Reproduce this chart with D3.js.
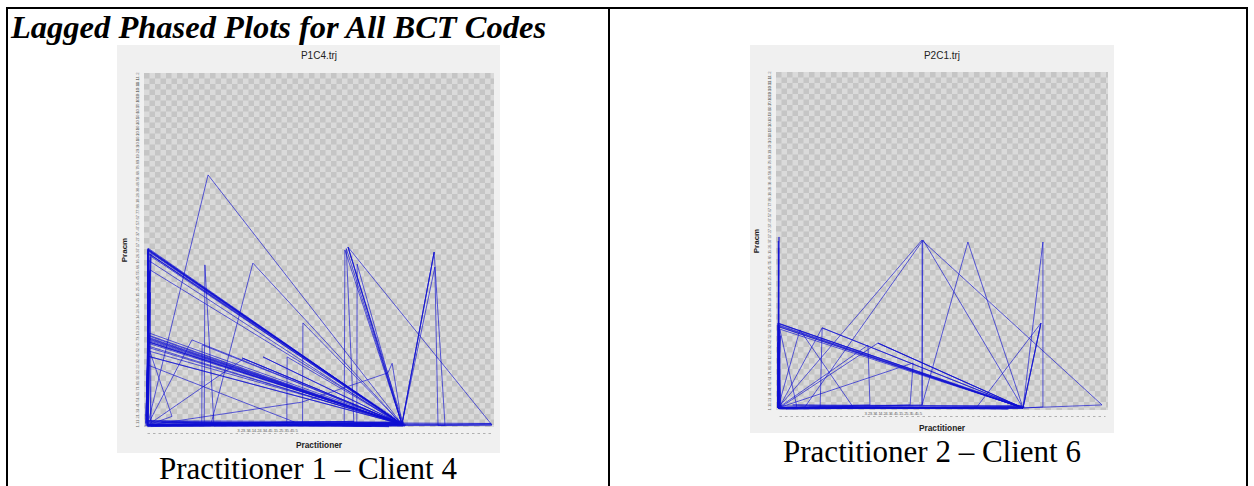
<!DOCTYPE html>
<html>
<head>
<meta charset="utf-8">
<script src="https://cdn.jsdelivr.net/npm/d3@7"></script>
<style>
body{margin:0;background:#fff}
svg{display:block}
</style>
</head>
<body>
<svg id="chart" width="1254" height="486"></svg>
<script>
// BCT codes used as the tick labels of both axes
const bctCodes = ("1.1 1.2 1.3 1.4 1.5 1.6 1.7 1.8 1.9 2.1 2.2 2.3 2.4 2.5 2.6 2.7 3.1 3.2 3.3 " +
  "4.1 4.2 4.3 4.4 5.1 5.2 5.3 5.4 5.5 5.6 6.1 6.2 6.3 7.1 7.2 7.3 7.4 7.5 7.6 7.7 7.8 " +
  "8.1 8.2 8.3 8.4 8.5 8.6 8.7 8.8 9.1 9.2 9.3 10.1 10.2 10.3 10.4 10.5 10.6 10.7 10.8 10.9 " +
  "10.10 10.11 11.1 11.2").split(" ");
const xLabelCodes = ["3.2","3.3","4.1","4.2","4.3","4.4","5.1","5.2","5.3","5.4","5.5"];

// lagged trajectories, [x, y] as percent of the axis range
const p1c4 = [
  [1,0.5],[1.1,50.3],[73.7,0.8],[30,0.3],[1,0.5],[1.2,50],[73.9,0.6],[1,0.4],[1.1,25.4],[73.7,0.8],[12,0.3],
  [1,0.5],[1.1,23.7],[73.5,1],[1,0.5],[1.2,49.6],[73.7,0.8],[50,0.3],[1,0.5],[1.1,25],[73.7,0.8],
  [1.1,20],[73.7,0.8],[1,0.5],[1.1,50.3],[73.7,0.8],[58.3,50.8],[73.7,0.8],[57.4,50],[57.2,0.4],
  [1,0.5],[18.3,71.2],[73.7,0.8],[20,0.3],[17.4,45.8],[17.2,0.4],[1,0.5],[1.1,26],[73.7,0.8],
  [31.1,46.3],[19,0.3],[1,0.5],[1.1,50],[73.7,0.8],[60.9,46],[60.8,0.4],[1,0.5],[1.1,24.5],[73.7,0.8],
  [82.9,49.4],[73.7,0.8],[83.1,45.2],[84,0.4],[99.4,0.6],[1,0.5],[1.7,44.4],[73.7,0.8],[45.4,29.4],
  [45.3,0.4],[1,0.5],[1.1,24.2],[73.7,0.8],[28,19.5],[73.7,0.8],[1,0.5],[1.2,49.8],[73.7,0.8],
  [34,19.8],[73.7,0.8],[40.9,19.8],[40.8,0.4],[1,0.5],[13.7,24.6],[73.7,0.8],[16.6,23.2],[16.5,0.4],
  [1,0.5],[1.1,23],[8,3],[1,0.5],[1.1,17.5],[43,1.4],[1,0.5],[1.1,25.8],[74.2,0.5],[58.3,50.8],[99.4,0.6],
  [1,0.5],[1.1,50.1],[74,0.6],[1,0.4],[1.1,24.8],[73.7,0.8],[70.9,18],[69.7,15.3],[45,7],[1,0.5],
  [1.1,22.5],[73.7,0.8],[57.8,50.4],[60,0.5],[1,0.5],[1.2,50.5],[73.6,0.9],[1,0.5],[28.5,19.3],[73.7,0.8],
  [1,0.5],[1.1,25.2],[73.7,0.8],[82.9,49.4],[86,0.5],[1,0.5],
  [1.4,40],[0.6,3],[1.8,48],[0.8,10],[1.5,35],[0.5,1],[2,49],[1.2,1.5],[65,0.2],[5,1.4],[72,1.2],[2,0.2],
  [1.3,30],[0.7,2],[1.6,44],[1,0.8],[60,1.6],[3,0.6],[74,0.3],[1.3,49],[74.5,0.3],[0.8,0.6],[1.5,48.5],
  [73,1.2],[1,0.4],[1.1,49.2],[74.8,0.5],[1.3,24],[73.2,1.1],[0.9,0.9],[1.4,22.8],[74.4,0.4],[1.2,0.2],
  [1.6,26.5],[73.9,1],[0.7,1.3],[1.2,21.5],[74.6,0.9],[88,0.8],[99.2,1],[2,1.5],[1.8,38],[0.6,0.3],
  [1.4,47],[73.4,0.5],[40,1.2],[1.5,0.7],[70,0.1],[1,1.8],[74.2,1.4],[0.9,0.1]
];
const p2c1 = [
  [0.6,0.6],[0.9,51.2],[0.8,0.6],[0.6,25.7],[74.4,0.6],[0.6,0.6],[0.9,24.6],[74.4,0.6],[0.6,0.6],
  [0.7,50],[0.9,0.6],[13.9,24.3],[13.3,0.9],[0.6,0.6],[0.6,25.2],[74.4,0.6],[13.9,24.3],[74.4,0.6],
  [0.6,0.6],[27.7,19.2],[28.3,1.5],[0.6,0.6],[0.6,25.7],[74.4,0.6],[30.7,19.8],[74.4,0.6],[0.6,0.6],
  [44,50.3],[44,1.5],[0.6,0.6],[0.9,24],[74.4,0.6],[44.3,50.3],[8.7,0.9],[0.6,0.6],[7.2,23.7],[23.2,0.9],
  [0.6,0.6],[0.6,25],[74.4,0.6],[57.8,49.7],[44,1.5],[44.2,50],[98.2,1.5],[74.4,0.6],[80.4,49.7],[80.4,0.9],
  [74.4,0.6],[79.8,25.7],[60.5,0.9],[0.6,0.6],[41.3,13.9],[40.4,1.5],[0.6,0.6],[1.2,23.7],[6.3,0.9],
  [0.6,0.6],[0.9,24.6],[74.4,0.6],[79.8,25.7],[74.4,0.6],[0.6,0.6],[0.8,48],[1,0.6],[30.7,19.8],[74.4,0.6],[0.6,0.6],
  [0.5,20],[1.2,1],[0.8,24],[1.5,0.5],[0.6,15],[1,1.2],[74,1.2],[5,1.5],[70,0.3],[2,0.8],[74.8,0.9],
  [1,0.3],[1.3,22],[0.5,1.4],[1.1,25.4],[73.8,1.1],[3,0.3]
];

let svg = d3.select('#chart');

// checker background of the plot area
let defs = svg.append('defs');
function checker(id, x0, y0){
  let p = defs.append('pattern').attr('id', id).attr('patternUnits','userSpaceOnUse')
    .attr('x', x0).attr('y', y0).attr('width', 11).attr('height', 11);
  p.append('rect').attr('width', 11).attr('height', 11).attr('fill', '#dadada');
  p.append('rect').attr('width', 5.5).attr('height', 5.5).attr('fill', '#c5c5c5');
  p.append('rect').attr('x', 5.5).attr('y', 5.5).attr('width', 5.5).attr('height', 5.5).attr('fill', '#c5c5c5');
}

function phasePlot(obj){
  let g = svg.append('g');
  let [px, py, pw, ph] = obj.panel;
  let [x0, y0, x1, y1] = obj.plot;
  g.append('rect').attr('x', px).attr('y', py).attr('width', pw).attr('height', ph).attr('fill', '#f0f0f0');
  checker(obj.id, x0, y0);
  g.append('rect').attr('x', x0).attr('y', y0).attr('width', x1-x0).attr('height', y1-y0).attr('fill', `url(#${obj.id})`);

  let x = d3.scaleLinear().domain([0, 100]).range([x0, x1]);
  let y = d3.scaleLinear().domain([0, 100]).range([y1, y0]);

  // y axis: tiny rotated code labels
  let yc = d3.scalePoint().domain(bctCodes).range([y1-3, y0+3]);
  let ya = g.append('g').attr('transform', `translate(${x0},0)`).call(d3.axisLeft(yc).tickSize(0));
  ya.select('.domain').remove();
  ya.selectAll('text').attr('x', 0).attr('dy', null)
    .attr('transform', 'translate(-7,0) rotate(-90)').attr('text-anchor', 'middle')
    .attr('dominant-baseline', 'central').attr('font-size', 4.3).attr('fill', '#6e6e6e')
    .attr('font-family', 'Liberation Sans, Arial, sans-serif');

  // x axis: dashed line with a few labels
  let xc = d3.scalePoint().domain(bctCodes).range([x0+3, x1-3]);
  let xa = g.append('g').attr('transform', `translate(0,${y1+6})`)
    .call(d3.axisBottom(xc).tickSize(0).tickFormat(d => xLabelCodes.includes(d) ? d : ''));
  xa.select('.domain').attr('stroke', '#a8a8a8').attr('stroke-dasharray', '2.5,3').attr('stroke-width', 0.9);
  xa.selectAll('text').attr('y', -1.5).attr('dy', null).attr('font-size', 4.3).attr('fill', '#666')
    .attr('font-family', 'Liberation Sans, Arial, sans-serif');

  // trajectory
  let line = d3.line().x(d => x(d[0])).y(d => y(d[1]));
  g.append('path').datum(obj.data).attr('d', line).attr('fill', 'none')
    .attr('stroke', '#0f0fd2').attr('stroke-opacity', 0.65).attr('stroke-width', 1)
    .attr('stroke-linejoin', 'round');

  let cx = (x0 + x1) / 2;
  g.append('text').attr('x', cx).attr('y', py+14).attr('text-anchor', 'middle')
    .attr('font-family', 'Liberation Sans, Arial, sans-serif').attr('font-size', 10).attr('fill', '#222')
    .text(obj.title);
  g.append('text').attr('transform', `translate(${x0-17},${(y0+y1)/2}) rotate(-90)`).attr('text-anchor', 'middle')
    .attr('font-family', 'Liberation Sans, Arial, sans-serif').attr('font-size', 8).attr('font-weight', 'bold')
    .attr('fill', '#222').text('Pracm');
  g.append('text').attr('x', cx).attr('y', y1+21).attr('text-anchor', 'middle')
    .attr('font-family', 'Liberation Sans, Arial, sans-serif').attr('font-size', 8.3).attr('font-weight', 'bold')
    .attr('fill', '#222').text('Practitioner');

  svg.append('text').attr('x', obj.capX).attr('y', obj.capY).attr('text-anchor', 'middle')
    .attr('font-family', 'Liberation Serif, Times New Roman, serif').attr('font-size', 31)
    .text(obj.caption);
}

// table frame
let frame = svg.append('g').attr('stroke', '#000').attr('stroke-width', 2);
frame.append('line').attr('x1', 6).attr('x2', 1248).attr('y1', 8).attr('y2', 8);
[7, 609, 1247].forEach(v => frame.append('line').attr('x1', v).attr('x2', v).attr('y1', 7).attr('y2', 486));

svg.append('text').attr('x', 11).attr('y', 38)
  .attr('font-family', 'Liberation Serif, Times New Roman, serif').attr('font-size', 32.5)
  .attr('font-weight', 'bold').attr('font-style', 'italic')
  .text('Lagged Phased Plots for All BCT Codes');

phasePlot({id:'chk1', panel:[117,45,383,408], plot:[144,73,494,427], data:p1c4, title:'P1C4.trj',
  caption:'Practitioner 1 \u2013 Client 4', capX:308, capY:478.5});
phasePlot({id:'chk2', panel:[750,45,364,388], plot:[776,72,1108,410], data:p2c1, title:'P2C1.trj',
  caption:'Practitioner 2 \u2013 Client 6', capX:932, capY:462});
</script>
</body>
</html>
